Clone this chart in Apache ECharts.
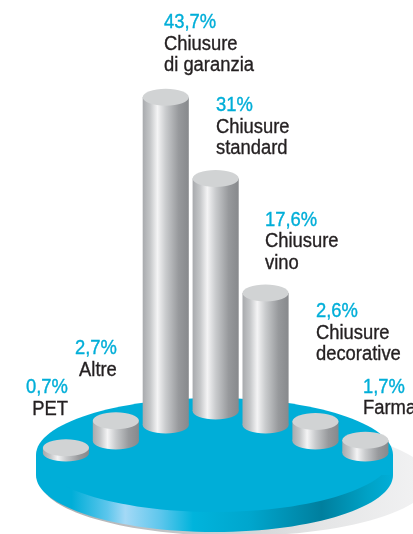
<!DOCTYPE html>
<html>
<head>
<meta charset="utf-8">
<style>html,body{margin:0;padding:0;background:#fff;overflow:hidden}#chart{width:413px;height:534px}</style>
<script src="https://cdn.jsdelivr.net/npm/echarts@6/dist/echarts.min.js"></script>
</head>
<body>
<div id="chart"></div>
<script>
// Market share by closure type, arranged left to right around the disc.
const categories = ['PET', 'Altre', 'Chiusure\ndi garanzia', 'Chiusure\nstandard', 'Chiusure\nvino', 'Chiusure\ndecorative', 'Farma'];
const shares = [0.7, 2.7, 43.7, 31, 17.6, 2.6, 1.7];

// Layout of the round stage: rows step forward from the back-centre cylinder.
const rowDrop = [0, 14, 30, 42];
const labelLift = [28, 40, 21, 19, 19, 56, 21];
const labelShift = [2, 1, -1.8, 0.3, -0.6, 0.5, -2.4];
const CENTRE = 3;
const BLUE = '#00aed8';
const INK = '#231f20';
const LINE = 21.5;
const FONT = 'Liberation Sans';

const steel = { type: 'linear', x: 0, y: 0, x2: 1, y2: 0, colorStops: [
  { offset: 0, color: '#a8aaad' },
  { offset: 0.16, color: '#c4c6c8' },
  { offset: 0.32, color: '#f4f4f5' },
  { offset: 0.5, color: '#c9cbcd' },
  { offset: 0.78, color: '#97999c' },
  { offset: 1, color: '#87898c' }
] };

const rim = { type: 'linear', x: 0, y: 0, x2: 1, y2: 0, colorStops: [
  { offset: 0, color: BLUE },
  { offset: 0.1, color: BLUE },
  { offset: 0.2, color: '#5cc6ec' },
  { offset: 0.25, color: '#a4d9f6' },
  { offset: 0.35, color: '#5cc6ec' },
  { offset: 0.44, color: '#00b4dc' },
  { offset: 0.6, color: '#00a6cd' },
  { offset: 0.8, color: '#007f9e' },
  { offset: 0.93, color: '#00a2c6' },
  { offset: 1, color: BLUE }
] };

const castShadow = { type: 'linear', x: 0, y: 0, x2: 1, y2: 0, colorStops: [
  { offset: 0, color: '#a9abae' },
  { offset: 0.4, color: '#c9cacc' },
  { offset: 0.72, color: '#e4e5e6' },
  { offset: 1, color: '#f3f3f4' }
] };

function formatShare(v) {
  return String(v).replace('.', ',') + '%';
}

function textStyle(text, color, align, verticalAlign) {
  return {
    text, fill: color, stroke: color, lineWidth: 0.35,
    align, verticalAlign, font: '20px "' + FONT + '"', lineHeight: LINE
  };
}

function renderCylinder(params, api) {
  const i = params.dataIndex;
  const share = api.value(1);
  const band = api.size([1, 0])[0];
  const rx = band * 0.462;
  const ry = 8.5;
  const cx = api.coord([i, 0])[0];
  const drop = rowDrop[Math.abs(i - CENTRE)];
  const baseY = api.coord([i, 0])[1] + drop;
  const topY = api.coord([i, share])[1] + drop;

  const name = categories[i];
  const lines = name.split('\n').length;
  const anchorY = topY - labelLift[i];
  const labelX = cx + labelShift[i];
  const align = i < 2 ? 'right' : 'left';

  return {
    type: 'group',
    children: [
      { type: 'ellipse', shape: { cx: cx, cy: baseY, rx: rx, ry: ry }, style: { fill: steel } },
      { type: 'rect', shape: { x: cx - rx, y: topY, width: rx * 2, height: baseY - topY }, style: { fill: steel } },
      { type: 'ellipse', shape: { cx: cx, cy: topY, rx: rx, ry: ry }, style: { fill: '#d1d3d4' } },
      { type: 'text', x: labelX, y: anchorY, scaleX: 0.92,
        style: textStyle(name, INK, align, 'bottom') },
      { type: 'text', x: labelX, y: anchorY - lines * LINE, scaleX: 0.92,
        style: textStyle(formatShare(share), BLUE, align, 'bottom') }
    ]
  };
}

const chart = echarts.init(document.getElementById('chart'), null, { renderer: 'canvas' });
chart.setOption({
  animation: false,
  backgroundColor: '#ffffff',
  grid: { left: 41, width: 349.3, top: 36, height: 375 },
  xAxis: { type: 'category', data: categories, show: false },
  yAxis: { type: 'value', min: 0, max: 50, show: false },
  graphic: [
    { type: 'ellipse', z: 0, shape: { cx: 235, cy: 480, rx: 195, ry: 56 }, style: { fill: castShadow } },
    { type: 'ellipse', z: 1, shape: { cx: 214.5, cy: 475, rx: 178.5, ry: 57 }, style: { fill: rim } },
    { type: 'rect', z: 1, shape: { x: 36, y: 455, width: 357, height: 20 }, style: { fill: BLUE } },
    { type: 'ellipse', z: 1, shape: { cx: 214.5, cy: 455, rx: 178.5, ry: 57 }, style: { fill: BLUE } }
  ],
  series: [{
    type: 'custom',
    coordinateSystem: 'cartesian2d',
    encode: { x: 0, y: 1 },
    clip: false,
    data: shares.map((v, i) => [i, v]),
    renderItem: renderCylinder
  }]
});
</script>
</body>
</html>
